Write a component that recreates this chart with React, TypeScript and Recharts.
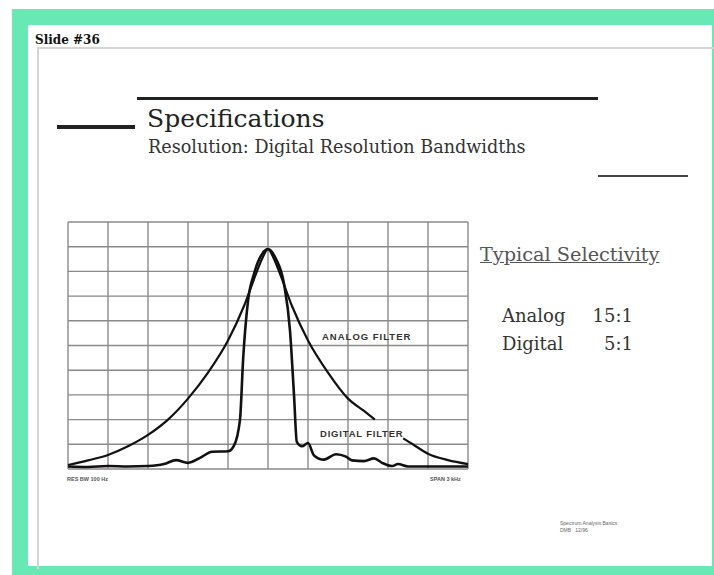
import React from 'react';
import { LineChart, Line, XAxis, YAxis, CartesianGrid } from 'recharts';

// horizontal divisions (span 3 kHz, centre = 0) and vertical divisions
const xTicks = [-5, -4, -3, -2, -1, 0, 1, 2, 3, 4, 5];
const yTicks = [0, 1, 2, 3, 4, 5, 6, 7, 8, 9, 10];

// analog filter trace, gap where the "DIGITAL FILTER" label sits
const analogX = [-5, -4.5, -4, -3.5, -3, -2.5, -2, -1.5, -1, -0.6, -0.3, -0.15, 0, 0.15, 0.3, 0.6, 1, 1.5, 2, 2.4, 2.67, 2.9, 3.38, 3.6, 4, 4.5, 5];
const analogY = [0.16, 0.35, 0.57, 0.92, 1.38, 2.0, 2.85, 3.9, 5.2, 6.6, 7.9, 8.5, 8.9, 8.5, 7.9, 6.6, 5.2, 3.9, 2.85, 2.35, 2.0, null, 1.24, 1.02, 0.62, 0.36, 0.2];

// digital filter trace
const digitalX = [-5, -4.5, -4, -3.5, -3, -2.6, -2.3, -2.0, -1.7, -1.4, -1.0, -0.85, -0.7, -0.62, -0.5, -0.35, -0.15, 0, 0.2, 0.4, 0.55, 0.65, 0.72, 0.85, 1.0, 1.15, 1.4, 1.7, 1.95, 2.1, 2.4, 2.65, 2.85, 3.1, 3.25, 3.5, 4, 4.5, 5];
const digitalY = [0.1, 0.08, 0.12, 0.1, 0.12, 0.2, 0.36, 0.25, 0.45, 0.7, 0.72, 0.95, 2.0, 4.5, 6.8, 7.9, 8.7, 8.9, 8.5, 7.5, 5.6, 3.0, 1.1, 0.92, 1.05, 0.55, 0.38, 0.6, 0.5, 0.35, 0.32, 0.43, 0.25, 0.12, 0.2, 0.1, 0.1, 0.1, 0.1];

const analogData = analogX.map((x, i) => ({ x, y: analogY[i] }));
const digitalData = digitalX.map((x, i) => ({ x, y: digitalY[i] }));

const serif = '"DejaVu Serif", "Liberation Serif", serif';
const sans = '"Liberation Sans", "DejaVu Sans", sans-serif';

// map a value through the axis scale (recharts 3 may hand over a wrapped scale)
const viaScale = (axis: any, v: number, fallback: number) => {
  const s = axis && axis.scale;
  if (typeof s === 'function') return s(v);
  if (s && typeof s.map === 'function') return s.map(v);
  return fallback;
};
const hLines = ({ yAxis, offset }: any) =>
  yTicks.map((t) => viaScale(yAxis, t, offset.top + offset.height * (1 - t / 10)));
const vLines = ({ xAxis, offset }: any) =>
  xTicks.map((t) => viaScale(xAxis, t, offset.left + offset.width * ((t + 5) / 10)));

export default function App() {
  return (
    <div style={{ position: 'absolute', left: 0, top: 0, width: 714, height: 575, background: '#fff', overflow: 'hidden' }}>
      {/* green frame */}
      <div style={{ position: 'absolute', left: 12, top: 9, width: 720, height: 580, background: '#68e8b5' }} />
      <div style={{ position: 'absolute', left: 28, top: 25, width: 684, height: 541, background: '#fff' }} />
      <div style={{ position: 'absolute', left: 35, top: 33, fontFamily: serif, fontWeight: 'bold', fontSize: 12, color: '#111' }}>Slide #36</div>
      <div style={{ position: 'absolute', left: 37, top: 47, width: 680, height: 520, borderTop: '2px solid #d4d4d4', borderLeft: '2px solid #d4d4d4' }} />

      {/* title block */}
      <div style={{ position: 'absolute', left: 137, top: 97, width: 461, height: 3, background: '#222' }} />
      <div style={{ position: 'absolute', left: 57, top: 125, width: 78, height: 4, background: '#222' }} />
      <div style={{ position: 'absolute', left: 598, top: 175, width: 90, height: 2, background: '#444' }} />
      <div style={{ position: 'absolute', left: 147, top: 104, fontFamily: serif, fontSize: 25, lineHeight: 'normal', color: '#222', whiteSpace: 'nowrap' }}>Specifications</div>
      <div style={{ position: 'absolute', left: 148, top: 137, fontFamily: serif, fontSize: 17.6, color: '#333', whiteSpace: 'nowrap' }}>Resolution: Digital Resolution Bandwidths</div>

      {/* chart */}
      <div style={{ position: 'absolute', left: 66, top: 220 }}>
        <LineChart width={404} height={251} margin={{ top: 2, right: 2, bottom: 2, left: 2 }}>
          <CartesianGrid stroke="#8a8a8a" strokeWidth={1.4} horizontalCoordinatesGenerator={hLines} verticalCoordinatesGenerator={vLines} />
          <XAxis type="number" dataKey="x" domain={[-5, 5]} ticks={xTicks} interval={0} hide />
          <YAxis type="number" domain={[0, 10]} ticks={yTicks} interval={0} hide />
          <Line data={analogData} dataKey="y" type="monotone" stroke="#111" strokeWidth={2.2} dot={false} isAnimationActive={false} connectNulls={false} />
          <Line data={digitalData} dataKey="y" type="monotone" stroke="#111" strokeWidth={2.6} dot={false} isAnimationActive={false} />
        </LineChart>
      </div>
      <div style={{ position: 'absolute', left: 322, top: 331, fontFamily: sans, fontWeight: 'bold', fontSize: 9.5, letterSpacing: 1, color: '#333', whiteSpace: 'nowrap' }}>ANALOG FILTER</div>
      <div style={{ position: 'absolute', left: 320, top: 428, fontFamily: sans, fontWeight: 'bold', fontSize: 9.5, letterSpacing: 0.8, color: '#333', whiteSpace: 'nowrap' }}>DIGITAL FILTER</div>
      <div style={{ position: 'absolute', left: 67, top: 476, fontFamily: sans, fontWeight: 'bold', fontSize: 5.5, color: '#555', whiteSpace: 'nowrap' }}>RES BW 100 Hz</div>
      <div style={{ position: 'absolute', left: 430, top: 476, fontFamily: sans, fontWeight: 'bold', fontSize: 5.5, color: '#555', whiteSpace: 'nowrap' }}>SPAN 3 kHz</div>

      {/* selectivity */}
      <div style={{ position: 'absolute', left: 480, top: 243, fontFamily: serif, fontSize: 19.3, color: '#555', textDecoration: 'underline', whiteSpace: 'nowrap' }}>Typical Selectivity</div>
      <div style={{ position: 'absolute', left: 502, top: 305, fontFamily: serif, fontSize: 18, color: '#333', whiteSpace: 'nowrap' }}>Analog</div>
      <div style={{ position: 'absolute', left: 583, top: 305, width: 50, textAlign: 'right', fontFamily: serif, fontSize: 18, color: '#333' }}>15:1</div>
      <div style={{ position: 'absolute', left: 502, top: 333, fontFamily: serif, fontSize: 18, color: '#333', whiteSpace: 'nowrap' }}>Digital</div>
      <div style={{ position: 'absolute', left: 583, top: 333, width: 50, textAlign: 'right', fontFamily: serif, fontSize: 18, color: '#333' }}>5:1</div>

      {/* footer */}
      <div style={{ position: 'absolute', left: 560, top: 520, fontFamily: sans, fontSize: 5, color: '#666', lineHeight: '7px', whiteSpace: 'nowrap' }}>
        Spectrum Analysis Basics<br />DMB &nbsp; 12/96
      </div>
    </div>
  );
}
